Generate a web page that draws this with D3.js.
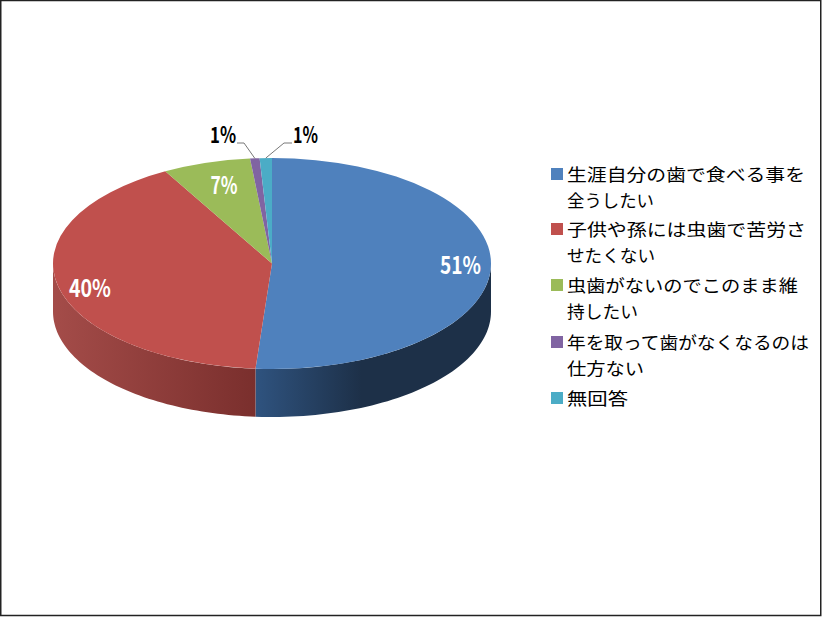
<!DOCTYPE html>
<html>
<head>
<meta charset="utf-8">
<script src="https://cdnjs.cloudflare.com/ajax/libs/d3/7.8.5/d3.min.js"></script>
<style>
html, body { margin: 0; padding: 0; background: #fff; }
svg { display: block; }
text { font-family: "Noto Sans CJK JP", sans-serif; }
</style>
</head>
<body>
<div id="chart"></div>
<script>
// data
const categories = ["生涯自分の歯で食べる事を全うしたい", "子供や孫には虫歯で苦労させたくない", "虫歯がないのでこのまま維持したい", "年を取って歯がなくなるのは仕方ない", "無回答"];
const values = [51.2, 40.7, 6.5, 0.7, 0.9];
const percentLabels = ["51%", "40%", "7%", "1%", "1%"];
const legendLines = [
    ["生涯自分の歯で食べる事を", "全うしたい"],
    ["子供や孫には虫歯で苦労さ", "せたくない"],
    ["虫歯がないのでこのまま維", "持したい"],
    ["年を取って歯がなくなるのは", "仕方ない"],
    ["無回答"]
];
const colors = ["#4f81bd", "#c0504d", "#9bbb59", "#8064a2", "#4bacc6"];
const sideColors = [["#2f537f", "#1d3048"], ["#a44c49", "#7a2f2d"]];

const width = 822, height = 617;
const cx = 272, cy = 263.5, rx = 219, ry = 105.5, depth = 48;

const svg = d3.select("#chart").append("svg")
    .attr("width", width)
    .attr("height", height);

svg.append("rect")
    .attr("x", 0.75).attr("y", 0.5)
    .attr("width", 820).attr("height", 615)
    .attr("fill", "#fff")
    .attr("stroke", "#222")
    .attr("stroke-width", 1.5);

const pie = d3.pie().sort(null).value(d => d);
const arcs = pie(values);

const px = a => cx + rx * Math.sin(a);
const py = a => cy - ry * Math.cos(a);

// side wall, only the front half of the ellipse can be seen
const defs = svg.append("defs");
const wall = (a0, a1) => {
    const n = 60;
    const angles = d3.range(n + 1).map(i => a0 + (a1 - a0) * i / n);
    const top = angles.map(a => [px(a), py(a)]);
    const bottom = angles.slice().reverse().map(a => [px(a), py(a) + depth]);
    return d3.line()(top.concat(bottom)) + "Z";
};

arcs.forEach((d, i) => {
    const a0 = Math.max(d.startAngle, Math.PI / 2);
    const a1 = Math.min(d.endAngle, Math.PI * 1.5);
    if (a0 >= a1) return;
    const right = i === 0;
    const grad = defs.append("linearGradient")
        .attr("id", "side" + i)
        .attr("gradientUnits", "userSpaceOnUse")
        .attr("x1", px(a1)).attr("x2", px(a0))
        .attr("y1", 0).attr("y2", 0);
    if (right) {
        grad.append("stop").attr("offset", 0).attr("stop-color", sideColors[0][0]);
        grad.append("stop").attr("offset", 0.45).attr("stop-color", sideColors[0][1]);
        grad.append("stop").attr("offset", 1).attr("stop-color", sideColors[0][1]);
    } else {
        grad.append("stop").attr("offset", 0).attr("stop-color", sideColors[1][0]);
        grad.append("stop").attr("offset", 1).attr("stop-color", sideColors[1][1]);
    }
    svg.append("path")
        .attr("d", wall(a0, a1))
        .attr("fill", `url(#side${i})`);
});

// top face
const arc = d3.arc().innerRadius(0).outerRadius(rx);
svg.append("g")
    .attr("transform", `translate(${cx},${cy}) scale(1,${ry / rx})`)
    .selectAll("path")
    .data(arcs)
    .enter()
    .append("path")
    .attr("d", arc)
    .attr("fill", (d, i) => colors[i]);

// leader lines for the two small slices
const leaders = [
    { i: 3, knee: [244, 143], end: [237, 143] },
    { i: 4, knee: [284, 143], end: [292, 143] }
];
leaders.forEach(l => {
    const mid = (arcs[l.i].startAngle + arcs[l.i].endAngle) / 2;
    svg.append("polyline")
        .attr("points", [[px(mid), py(mid)], l.knee, l.end].join(" "))
        .attr("fill", "none")
        .attr("stroke", "#555")
        .attr("stroke-width", 0.8);
});

// percent labels, squeezed to the narrow gothic widths of the original
const labelPos = [[460.5, 265], [90, 288], [224, 185], [223, 135], [305.5, 135]];
const labelWidth = [41, 42, 27, 26, 25];
const labelSize = [24, 24, 24, 22, 22];
const labelFill = ["#fff", "#fff", "#fff", "#000", "#000"];
svg.append("g")
    .selectAll("text")
    .data(percentLabels)
    .enter()
    .append("text")
    .attr("x", (d, i) => labelPos[i][0])
    .attr("y", (d, i) => labelPos[i][1])
    .attr("dy", "0.36em")
    .attr("text-anchor", "middle")
    .attr("font-size", (d, i) => labelSize[i])
    .attr("font-weight", 700)
    .attr("textLength", (d, i) => labelWidth[i])
    .attr("lengthAdjust", "spacingAndGlyphs")
    .attr("fill", (d, i) => labelFill[i])
    .text(d => d);

// legend, each entry is one text with a tspan per wrapped line
const legendY = [175, 230, 286, 343, 399];
const lineWidth = [[238, 87], [239, 88], [231, 71], [242, 77], [61]];
const legend = svg.append("g");
legendLines.forEach((lines, i) => {
    legend.append("rect")
        .attr("x", 551).attr("y", legendY[i] - 7)
        .attr("width", 12).attr("height", 12)
        .attr("fill", colors[i]);
    const label = legend.append("text")
        .attr("font-size", 17.4)
        .attr("fill", "#000");
    lines.forEach((line, j) => {
        label.append("tspan")
            .attr("x", 567)
            .attr("y", legendY[i] + j * 25.5 + 6)
            .attr("textLength", lineWidth[i][j])
            .attr("lengthAdjust", "spacingAndGlyphs")
            .text(line);
    });
});
</script>
</body>
</html>
